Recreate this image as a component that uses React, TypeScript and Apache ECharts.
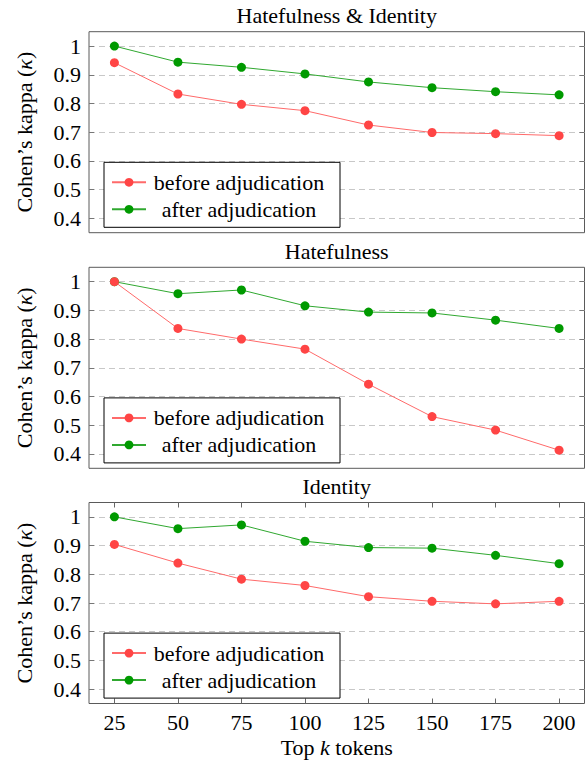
import React, { useEffect, useRef } from "react";
import * as echarts from "echarts";

const xValues = [25, 50, 75, 100, 125, 150, 175, 200];
const yTicks = [0.4, 0.5, 0.6, 0.7, 0.8, 0.9, 1];
const panelTitles = ["Hatefulness & Identity", "Hatefulness", "Identity"];
const seriesNames = ["before adjudication", "after adjudication"];

const beforeHI = [0.942, 0.833, 0.797, 0.775, 0.725, 0.699, 0.695, 0.688];
const afterHI = [1.0, 0.944, 0.926, 0.903, 0.875, 0.855, 0.841, 0.83];
const beforeH = [1.0, 0.837, 0.8, 0.765, 0.643, 0.53, 0.483, 0.413];
const afterH = [1.0, 0.958, 0.971, 0.916, 0.894, 0.891, 0.866, 0.837];
const beforeI = [0.904, 0.839, 0.783, 0.761, 0.722, 0.706, 0.697, 0.706];
const afterI = [1.0, 0.959, 0.972, 0.915, 0.893, 0.891, 0.866, 0.837];

const panelData = [
  [beforeHI, afterHI],
  [beforeH, afterH],
  [beforeI, afterI],
];

const FONT = "Liberation Serif";
const FS = 22;
const RED = "#ff4545";
const RED_LINE = "#ff6a6a";
const GREEN = "#009a00";
const GREEN_LINE = "#30a830";

export default function App() {
  const ref = useRef<HTMLDivElement>(null);

  useEffect(() => {
    if (!ref.current) return;
    const chart = echarts.init(ref.current, null, { renderer: "svg" });
    const gridTops = [31.7, 267.3, 502.5];
    const gridLeft = 89;
    const gridWidth = 495.5;
    const gridHeight = 201;
    const centerX = gridLeft + gridWidth / 2;

    const grids = gridTops.map((t) => ({
      left: gridLeft,
      top: t,
      width: gridWidth,
      height: gridHeight,
      show: true,
      borderColor: "#5a5a5a",
      borderWidth: 1,
      backgroundColor: "transparent",
      containLabel: false,
    }));

    const titles = gridTops.map((t, i) => ({
      text: panelTitles[i],
      left: centerX,
      textAlign: "center",
      top: t - 27,
      padding: 0,
      textStyle: { fontFamily: FONT, fontSize: FS, fontWeight: "normal", color: "#000" },
    }));

    const xAxes: any[] = gridTops.map((_, i) => {
      const last = i === 2;
      return {
        type: "value",
        gridIndex: i,
        min: 15,
        max: 210,
        position: "bottom",
        axisLine: { show: false },
        splitLine: { show: false },
        axisTick: {
          show: last,
          inside: true,
          length: 5,
          customValues: xValues,
          lineStyle: { color: "#666" },
        },
        axisLabel: {
          show: last,
          customValues: xValues,
          margin: 8,
          fontFamily: FONT,
          fontSize: FS,
          color: "#000",
        },
        name: last ? "{a|Top }{b|k}{a| tokens}" : "",
        nameLocation: "middle",
        nameGap: 33,
        nameTextStyle: {
          rich: {
            a: { fontFamily: FONT, fontSize: FS, color: "#000" },
            b: { fontFamily: FONT, fontSize: FS, fontStyle: "italic", color: "#000" },
          },
        },
      };
    });
    xAxes.push({
      type: "value",
      gridIndex: 2,
      min: 15,
      max: 210,
      position: "top",
      axisLine: { show: false },
      splitLine: { show: false },
      axisTick: { show: true, inside: true, length: 5, customValues: xValues, lineStyle: { color: "#666" } },
      axisLabel: { show: false, customValues: xValues },
    });

    const yAxes: any[] = [];
    gridTops.forEach((_, i) => {
      yAxes.push({
        type: "value",
        gridIndex: i,
        min: 0.35,
        max: 1.05,
        splitNumber: 7,
        position: "left",
        axisLine: { show: false },
        axisTick: { show: true, inside: true, length: 5, customValues: yTicks, lineStyle: { color: "#777" } },
        axisLabel: {
          customValues: yTicks,
          margin: 8,
          fontFamily: FONT,
          fontSize: FS,
          color: "#000",
        },
        splitLine: { show: true, lineStyle: { type: [6, 4], color: "#c8c8c8", width: 1 } },
        name: "{a|Cohen’s kappa (}{b|κ}{a|)}",
        nameLocation: "middle",
        nameGap: 54,
        nameTextStyle: {
          rich: {
            a: { fontFamily: FONT, fontSize: FS, color: "#000" },
            b: { fontFamily: FONT, fontSize: FS, fontStyle: "italic", color: "#000" },
          },
        },
      });
      yAxes.push({
        type: "value",
        gridIndex: i,
        min: 0.35,
        max: 1.05,
        splitNumber: 7,
        position: "right",
        axisLine: { show: false },
        axisTick: { show: true, inside: true, length: 5, customValues: yTicks, lineStyle: { color: "#777" } },
        axisLabel: { show: false, customValues: yTicks },
        splitLine: { show: false },
      });
    });

    const series: any[] = [];
    panelData.forEach((pair, i) => {
      pair.forEach((vals, k) => {
        series.push({
          type: "line",
          name: seriesNames[k],
          xAxisIndex: i,
          yAxisIndex: 2 * i,
          data: xValues.map((x, j) => [x, vals[j]]),
          symbol: "circle",
          symbolSize: 9,
          lineStyle: { width: 1, color: k === 0 ? RED_LINE : GREEN_LINE },
          itemStyle: { color: k === 0 ? RED : GREEN },
          z: k === 0 ? 3 : 2,
        });
      });
    });

    const legends = gridTops.map((t) => ({
      orient: "vertical",
      left: 104,
      top: t + 130.6,
      data: seriesNames,
      itemWidth: 34,
      itemHeight: 11,
      itemGap: 5,
      padding: [9, 13, 7, 7],
      borderColor: "#000",
      borderWidth: 1,
      backgroundColor: "#fff",
      selectedMode: false,
      formatter: (name: string) => `{c|${name}}`,
      textStyle: {
        rich: {
          c: { width: 176, align: "center", fontFamily: FONT, fontSize: FS, lineHeight: 22, color: "#000" },
        },
      },
    }));

    chart.setOption({
      animation: false,
      backgroundColor: "#fff",
      title: titles,
      grid: grids,
      xAxis: xAxes,
      yAxis: yAxes,
      legend: legends,
      series,
    });
    return () => chart.dispose();
  }, []);

  return (
    <div
      ref={ref}
      style={{ position: "absolute", left: 0, top: 0, width: 586, height: 762 }}
    />
  );
}
